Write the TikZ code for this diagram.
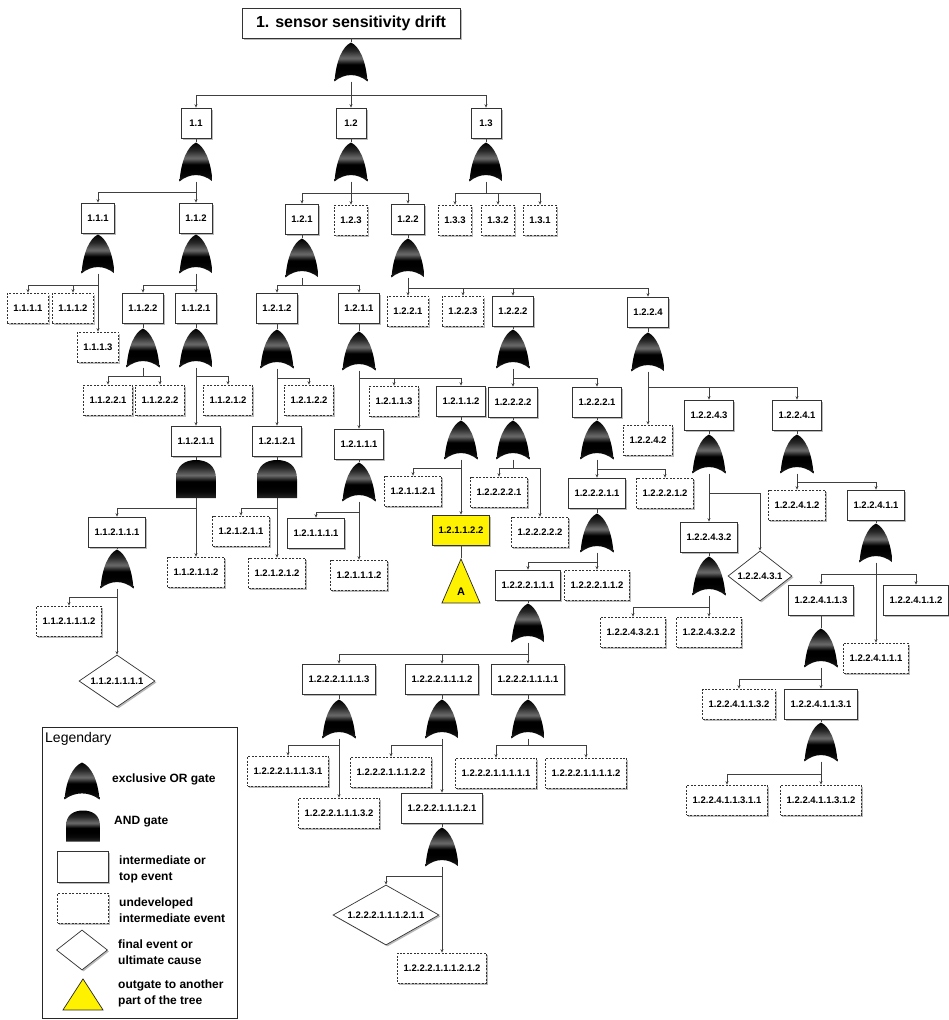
\documentclass[tikz,border=0pt]{standalone}
\usepackage{fontspec}
\setmainfont{Liberation Sans}
\usetikzlibrary{arrows.meta,shapes.geometric,shadows,calc}
\pgfdeclareverticalshading{gloss}{100bp}{color(0bp)=(black!85); color(25bp)=(black!85); color(33bp)=(black!97); color(40bp)=(black); color(47bp)=(black); color(55bp)=(black!58); color(65bp)=(black!85); color(75bp)=(black); color(100bp)=(black)}

\begin{document}
\begin{tikzpicture}[x=1pt, y=-1pt,
    evt/.style={draw=black!80, fill=white, line width=0.7pt, minimum width=30pt, minimum height=30pt,
      inner xsep=6pt, font=\fontsize{9.5}{11}\selectfont\bfseries,
      drop shadow={shadow xshift=1.5pt, shadow yshift=-1.5pt, fill=black!45, opacity=0.6}},
    undev/.style={evt, dash pattern=on 2pt off 1.5pt},
    outbox/.style={evt, fill=yellow},
    final/.style={diamond, draw=black!80, fill=white, line width=0.7pt, inner sep=0pt, aspect=1.5,
      font=\fontsize{9.5}{11}\selectfont\bfseries,
      drop shadow={shadow xshift=1.5pt, shadow yshift=-1.5pt, fill=black!45, opacity=0.6}},
    outgate/.style={isosceles triangle, isosceles triangle stretches, shape border rotate=90,
      draw=black!85, fill=yellow, line width=0.7pt, inner sep=0pt, minimum width=38pt, minimum height=44pt,
      font=\fontsize{11}{13}\selectfont\bfseries},
    xorgate/.style={minimum width=33pt, minimum height=39pt, inner sep=0pt,
      path picture={
        \shade[shading=gloss] let \p1=(path picture bounding box.south west),
          \p2=(path picture bounding box.north east), \n1={\x2-\x1}, \n2={\y2-\y1} in
          (\x1,\y1) .. controls ({\x1+0.05*\n1},{\y1+0.55*\n2}) and ({\x1+0.25*\n1},{\y1+0.9*\n2})
          .. ({\x1+0.5*\n1},\y2) .. controls ({\x1+0.75*\n1},{\y1+0.9*\n2}) and ({\x1+0.95*\n1},{\y1+0.55*\n2})
          .. (\x2,\y1) .. controls ({\x1+0.7*\n1},{\y1+0.22*\n2}) and ({\x1+0.3*\n1},{\y1+0.22*\n2}) .. (\x1,\y1);}},
    andgate/.style={minimum width=40pt, minimum height=38pt, inner sep=0pt,
      path picture={
        \shade[shading=gloss] let \p1=(path picture bounding box.south west),
          \p2=(path picture bounding box.north east), \n1={\x2-\x1}, \n2={\y2-\y1} in
          (\x1,\y1) -- (\x1,{\y1+0.5*\n2}) .. controls (\x1,{\y1+0.85*\n2}) and ({\x1+0.22*\n1},\y2)
          .. ({\x1+0.5*\n1},\y2) .. controls ({\x1+0.78*\n1},\y2) and (\x2,{\y1+0.85*\n2})
          .. (\x2,{\y1+0.5*\n2}) -- (\x2,\y1) -- (\x1,\y1);}},
    link/.style={draw=black!75, line width=0.8pt},
    arr/.style={link, -{Stealth[length=3.5pt,width=3pt]}},
    legtext/.style={anchor=west, align=left, inner sep=0pt, font=\fontsize{12}{16}\selectfont\bfseries}]

\fill[white] (0,0) rectangle (949,1020);
\useasboundingbox (0,0) rectangle (949,1020);

% top event
\node[evt, minimum width=218pt, font=\fontsize{16}{19}\selectfont\bfseries] (e1) at (351,23) {1. sensor sensitivity drift};
\node[xorgate] (g1) at (351,62) {};

% level 1
\node[evt] (e11) at (196,123) {1.1};
\node[evt] (e12) at (351,123) {1.2};
\node[evt] (e13) at (486,123) {1.3};
\node[xorgate] (g11) at (196,162) {};
\node[xorgate] (g12) at (351,162) {};
\node[xorgate] (g13) at (486,162) {};

% level 2
\node[evt] (e111) at (98,218) {1.1.1};
\node[evt] (e112) at (196,218) {1.1.2};
\node[evt] (e121) at (302,219) {1.2.1};
\node[undev] (e123) at (351,220) {1.2.3};
\node[evt] (e122) at (408,219) {1.2.2};
\node[undev] (e133) at (455,220) {1.3.3};
\node[undev] (e132) at (498,220) {1.3.2};
\node[undev] (e131) at (540,220) {1.3.1};
\node[xorgate] (g111) at (98,254) {};
\node[xorgate] (g112) at (196,254) {};
\node[xorgate] (g121) at (302,258) {};
\node[xorgate] (g122) at (408,258) {};

% level 3
\node[undev] (e1111) at (28,308) {1.1.1.1};
\node[undev] (e1112) at (73,308) {1.1.1.2};
\node[undev] (e1113) at (98,347) {1.1.1.3};
\node[evt] (e1122) at (143,308) {1.1.2.2};
\node[evt] (e1121) at (196,308) {1.1.2.1};
\node[evt] (e1212) at (277,308) {1.2.1.2};
\node[evt] (e1211) at (359,308) {1.2.1.1};
\node[undev] (e1221) at (408,311) {1.2.2.1};
\node[undev] (e1223) at (463,311) {1.2.2.3};
\node[evt] (e1222) at (513,311) {1.2.2.2};
\node[evt] (e1224) at (648,312) {1.2.2.4};
\node[xorgate] (g1122) at (143,348) {};
\node[xorgate] (g1121) at (196,348) {};
\node[xorgate] (g1212) at (277,349) {};
\node[xorgate] (g1211) at (359,351) {};
\node[xorgate] (g1222) at (513,349) {};
\node[xorgate] (g1224) at (648,352) {};

% level 4
\node[undev] (e11221) at (108,400) {1.1.2.2.1};
\node[undev] (e11222) at (160,400) {1.1.2.2.2};
\node[undev] (e11212) at (228,400) {1.1.2.1.2};
\node[evt] (e11211) at (196,441) {1.1.2.1.1};
\node[undev] (e12122) at (309,400) {1.2.1.2.2};
\node[evt] (e12121) at (277,441) {1.2.1.2.1};
\node[undev] (e12113) at (394,401) {1.2.1.1.3};
\node[evt] (e12112) at (461,401) {1.2.1.1.2};
\node[evt] (e12111) at (359,444) {1.2.1.1.1};
\node[evt] (e12222) at (513,402) {1.2.2.2.2};
\node[evt] (e12221) at (597,402) {1.2.2.2.1};
\node[undev] (e12242) at (648,440) {1.2.2.4.2};
\node[evt] (e12243) at (709,415) {1.2.2.4.3};
\node[evt] (e12241) at (797,415) {1.2.2.4.1};
\node[andgate] (g11211) at (196,479) {};
\node[andgate] (g12121) at (277,479) {};
\node[xorgate] (g12111) at (359,482) {};
\node[xorgate] (g12112) at (461,440) {};
\node[xorgate] (g12222) at (513,440) {};
\node[xorgate] (g12221) at (597,440) {};
\node[xorgate] (g12243) at (709,454) {};
\node[xorgate] (g12241) at (797,454) {};

% level 5
\node[evt] (e112111) at (117,532) {1.1.2.1.1.1};
\node[undev] (e112112) at (196,572) {1.1.2.1.1.2};
\node[undev] (e121211) at (241,531) {1.2.1.2.1.1};
\node[undev] (e121212) at (277,573) {1.2.1.2.1.2};
\node[evt] (e121111) at (316,533) {1.2.1.1.1.1};
\node[undev] (e121112) at (359,575) {1.2.1.1.1.2};
\node[undev] (e121121) at (413,491) {1.2.1.1.2.1};
\node[outbox] (e121122) at (461,530) {1.2.1.1.2.2};
\node[outgate, anchor=apex] (tA) at (461,558) {A};
\node[undev] (e122221) at (499,492) {1.2.2.2.2.1};
\node[undev] (e122222) at (540,532) {1.2.2.2.2.2};
\node[evt] (e122211) at (597,493) {1.2.2.2.1.1};
\node[undev] (e122212) at (665,493) {1.2.2.2.1.2};
\node[evt] (e122432) at (709,537) {1.2.2.4.3.2};
\node[final, minimum width=64pt, minimum height=50pt] (e122431) at (760,576) {1.2.2.4.3.1};
\node[undev] (e122412) at (797,505) {1.2.2.4.1.2};
\node[evt] (e122411) at (876,505) {1.2.2.4.1.1};
\node[xorgate] (g112111) at (117,569) {};
\node[xorgate] (g122211) at (597,533) {};
\node[xorgate] (g122432) at (709,576) {};
\node[xorgate] (g122411) at (876,543) {};

% level 6
\node[undev] (e1121112) at (69,621) {1.1.2.1.1.1.2};
\node[final, minimum width=76pt, minimum height=52pt] (e1121111) at (117,681) {1.1.2.1.1.1.1};
\node[evt] (e1222111) at (528,585) {1.2.2.2.1.1.1};
\node[undev] (e1222112) at (597,585) {1.2.2.2.1.1.2};
\node[undev] (e1224321) at (633,632) {1.2.2.4.3.2.1};
\node[undev] (e1224322) at (709,632) {1.2.2.4.3.2.2};
\node[evt] (e1224113) at (821,600) {1.2.2.4.1.1.3};
\node[evt] (e1224112) at (916,600) {1.2.2.4.1.1.2};
\node[undev] (e1224111) at (876,658) {1.2.2.4.1.1.1};
\node[xorgate] (g1222111) at (528,623) {};
\node[xorgate] (g1224113) at (821,648) {};

% level 7
\node[evt] (e12221113) at (339,679) {1.2.2.2.1.1.1.3};
\node[evt] (e12221112) at (442,679) {1.2.2.2.1.1.1.2};
\node[evt] (e12221111) at (528,679) {1.2.2.2.1.1.1.1};
\node[undev] (e12241132) at (739,704) {1.2.2.4.1.1.3.2};
\node[evt] (e12241131) at (821,704) {1.2.2.4.1.1.3.1};
\node[xorgate] (g12221113) at (339,719) {};
\node[xorgate] (g12221112) at (442,719) {};
\node[xorgate] (g12221111) at (528,719) {};
\node[xorgate] (g12241131) at (821,742) {};

% level 8
\node[undev] (e122211131) at (288,771) {1.2.2.2.1.1.1.3.1};
\node[undev] (e122211132) at (339,813) {1.2.2.2.1.1.1.3.2};
\node[undev] (e122211122) at (391,772) {1.2.2.2.1.1.1.2.2};
\node[evt] (e122211121) at (442,808) {1.2.2.2.1.1.1.2.1};
\node[undev] (e122211111) at (496,773) {1.2.2.2.1.1.1.1.1};
\node[undev] (e122211112) at (586,773) {1.2.2.2.1.1.1.1.2};
\node[undev] (e122411311) at (727,800) {1.2.2.4.1.1.3.1.1};
\node[undev] (e122411312) at (821,800) {1.2.2.4.1.1.3.1.2};
\node[xorgate] (g122211121) at (442,847) {};

% level 9
\node[final, minimum width=106pt, minimum height=60pt] (e1222111211) at (386,915) {1.2.2.2.1.1.1.2.1.1};
\node[undev] (e1222111212) at (442,968) {1.2.2.2.1.1.1.2.1.2};

% bus points below the gates
\coordinate (b1) at (351,95);
\coordinate (b11) at (196,192);
\coordinate (b12) at (351,193);
\coordinate (b13) at (486,193);
\coordinate (b111) at (98,285);
\coordinate (b112) at (196,285);
\coordinate (b121) at (302,285);
\coordinate (b122) at (408,288);
\coordinate (b1122) at (143,376);
\coordinate (b1121) at (196,376);
\coordinate (b1212) at (277,378);
\coordinate (b1211) at (359,378);
\coordinate (b1222) at (513,378);
\coordinate (b1224) at (648,387);
\coordinate (b11211) at (196,508);
\coordinate (b12121) at (277,508);
\coordinate (b12111) at (359,512);
\coordinate (b12112) at (461,468);
\coordinate (b12222) at (513,468);
\coordinate (b12221) at (597,469);
\coordinate (b12243) at (709,493);
\coordinate (b12241) at (797,482);
\coordinate (b112111) at (117,597);
\coordinate (b122211) at (597,562);
\coordinate (b122432) at (709,607);
\coordinate (b122411) at (876,574);
\coordinate (b1222111) at (528,654);
\coordinate (b1224113) at (821,679);
\coordinate (b12221113) at (339,745);
\coordinate (b12221112) at (442,745);
\coordinate (b12221111) at (528,745);
\coordinate (b12241131) at (821,774);
\coordinate (b122211121) at (442,876);

% event -> gate
\foreach \e/\g in {e1/g1, e11/g11, e12/g12, e13/g13, e111/g111, e112/g112, e121/g121, e122/g122,
    e1122/g1122, e1121/g1121, e1212/g1212, e1211/g1211, e1222/g1222, e1224/g1224,
    e11211/g11211, e12121/g12121, e12111/g12111, e12112/g12112, e12222/g12222, e12221/g12221,
    e12243/g12243, e12241/g12241, e112111/g112111, e122211/g122211, e122432/g122432,
    e122411/g122411, e1222111/g1222111, e1224113/g1224113, e12221113/g12221113,
    e12221112/g12221112, e12221111/g12221111, e12241131/g12241131, e122211121/g122211121}
  \draw[link] (\e.south) -- (\g.north);

% gate -> bus
\foreach \g in {1, 11, 12, 13, 111, 112, 121, 122, 1122, 1121, 1212, 1211, 1222, 1224,
    11211, 12121, 12111, 12112, 12222, 12221, 12243, 12241, 112111, 122211, 122432, 122411,
    1222111, 1224113, 12221113, 12221112, 12221111, 12241131, 122211121}
  \draw[link] (g\g.south) -- (b\g);

% bus -> inputs
\foreach \b/\c in {b1/e11, b1/e12, b1/e13, b11/e111, b11/e112, b12/e121, b12/e123, b12/e122,
    b13/e133, b13/e132, b13/e131, b111/e1111, b111/e1112, b111/e1113, b112/e1122, b112/e1121,
    b121/e1212, b121/e1211, b122/e1221, b122/e1223, b122/e1222, b122/e1224,
    b1122/e11221, b1122/e11222, b1121/e11212, b1121/e11211, b1212/e12122, b1212/e12121,
    b1211/e12113, b1211/e12112, b1211/e12111, b1222/e12222, b1222/e12221,
    b1224/e12243, b1224/e12241, b1224/e12242, b11211/e112111, b11211/e112112,
    b12121/e121211, b12121/e121212, b12111/e121111, b12111/e121112,
    b12112/e121121, b12112/e121122, b12222/e122221, b12222/e122222,
    b12221/e122211, b12221/e122212, b12243/e122431, b12243/e122432,
    b12241/e122412, b12241/e122411, b112111/e1121112, b112111/e1121111,
    b122211/e1222111, b122211/e1222112, b122432/e1224321, b122432/e1224322,
    b122411/e1224113, b122411/e1224112, b122411/e1224111,
    b1222111/e12221113, b1222111/e12221112, b1222111/e12221111,
    b1224113/e12241132, b1224113/e12241131, b12221113/e122211131, b12221113/e122211132,
    b12221112/e122211122, b12221112/e122211121, b12221111/e122211111, b12221111/e122211112,
    b12241131/e122411311, b12241131/e122411312, b122211121/e1222111211, b122211121/e1222111212}
  \draw[arr] (\b) -| (\c.north);

\draw[link] (e121122.south) -- (tA.apex);

% legend
\node[draw=black!85, line width=0.8pt, minimum width=195pt, minimum height=291pt, inner sep=0pt, anchor=north west] (legend) at (42,727) {};
\node[anchor=west, inner sep=0pt, font=\fontsize{14}{16}\selectfont] (legtitle) at (45,739) {Legendary};
\node[xorgate, minimum width=35pt, minimum height=37pt] (lxor) at (82,781) {};
\node[andgate, minimum width=34pt, minimum height=31pt] (land) at (83,826) {};
\node[evt, minimum width=51pt, minimum height=31pt] (levt) at (83,867) {};
\node[undev, minimum width=51pt, minimum height=30pt] (lundev) at (83,908) {};
\node[final, minimum width=51pt, minimum height=40pt] (lfinal) at (82,950) {};
\node[outgate, minimum width=40pt, minimum height=31pt, anchor=apex] (lout) at (83,978) {};
\node[legtext] (txor) at (112,779) {exclusive OR gate};
\node[legtext] (tand) at (114,822) {AND gate};
\node[legtext] (tevt) at (119,869) {intermediate or\\top event};
\node[legtext] (tundev) at (119,910) {undeveloped\\intermediate event};
\node[legtext] (tfinal) at (118,952) {final event or\\ultimate cause};
\node[legtext] (tout) at (118,993) {outgate to another\\part of the tree};
\end{tikzpicture}
\end{document}
